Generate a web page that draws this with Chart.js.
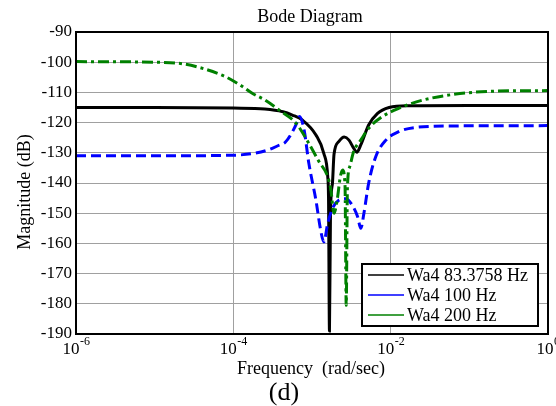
<!DOCTYPE html>
<html><head><meta charset="utf-8">
<script src="https://cdn.jsdelivr.net/npm/chart.js@4.4.0/dist/chart.umd.min.js"></script>
<style>html,body{margin:0;padding:0;background:#fff;}#wrap{position:relative;width:556px;height:406px;}</style>
</head><body><div id="wrap"><canvas id="c" width="556" height="406"></canvas></div>
<script>
// Frequencies in rad/sec, magnitudes in dB
const freqBlack = [1e-6, 1e-5, 1e-4, 2.512e-4, 4.266e-4, 5.623e-4, 7.586e-4, 1.122e-3, 1.413e-3, 1.585e-3, 1.622e-3, 1.667e-3, 1.718e-3, 1.820e-3, 1.905e-3, 2.188e-3, 2.570e-3, 2.951e-3, 3.388e-3, 3.715e-3, 4.169e-3, 5.248e-3, 6.761e-3, 9.550e-3, 1.698e-2, 0.1, 1];
const magBlack  = [-115, -115, -115.2, -115.5, -116.4, -117.5, -119.2, -124.1, -130.2, -137.9, -145, -189, -150, -140, -130.5, -126.3, -124.8, -125.8, -128.5, -129.8, -127.4, -120.8, -117, -115, -114.4, -114.3, -114.3];

const freqBlue = [1e-6, 1e-5, 1e-4, 1.820e-4, 2.818e-4, 3.802e-4, 4.571e-4, 5.623e-4, 6.607e-4, 6.918e-4, 7.943e-4, 9.120e-4, 1.122e-3, 1.288e-3, 1.413e-3, 1.585e-3, 1.820e-3, 2.188e-3, 2.692e-3, 3.236e-3, 3.802e-3, 4.169e-3, 4.571e-3, 5.248e-3, 6.457e-3, 8.710e-3, 1.259e-2, 2.089e-2, 6.310e-2, 1];
const magBlue  = [-131, -131, -130.8, -130.2, -129, -127.5, -126.5, -123.1, -119.3, -118, -122.5, -133.5, -145.7, -155.6, -159.5, -153.4, -148.4, -145.7, -145.2, -147.3, -151.2, -155, -150, -140.1, -131.3, -125.8, -123, -121.6, -121.1, -121];

const freqGreen = [1e-6, 1e-5, 2.239e-5, 4.266e-5, 7.943e-5, 1.259e-4, 1.738e-4, 2.512e-4, 3.802e-4, 6.310e-4, 9.120e-4, 1.230e-3, 1.585e-3, 1.738e-3, 1.905e-3, 2.089e-3, 2.291e-3, 2.455e-3, 2.630e-3, 2.723e-3, 2.818e-3, 3.020e-3, 3.388e-3, 4.169e-3, 5.248e-3, 7.762e-3, 1.259e-2, 2.512e-2, 7.586e-2, 0.2138, 1];
const magGreen  = [-99.8, -100, -100.5, -102.2, -104.8, -107.8, -110.3, -112.5, -115.8, -120.3, -126.9, -133, -137.9, -142.3, -150, -145.6, -137.9, -135.7, -141, -180.5, -142, -134.6, -129.6, -125.8, -121.9, -118.1, -115.3, -112.6, -110.4, -109.6, -109.4];

const seriesLabels = ['Wa4 83.3758 Hz', 'Wa4 100 Hz', 'Wa4 200 Hz'];
const seriesColors = ['#000000', '#0000ff', '#008000'];
const xTickValues = [1e-6, 1e-4, 1e-2, 1];
const xTickExponents = ['-6', '-4', '-2', '0'];
const yTickValues = [-190, -180, -170, -160, -150, -140, -130, -120, -110, -100, -90];

const SERIF = '"Liberation Serif", "Times New Roman", serif';
const toPts = (xs, ys) => xs.map((x, i) => ({x: x, y: ys[i]}));

const drawPlugin = {
  id: 'extras',
  afterDraw(chart) {
    const ctx = chart.ctx;
    const a = chart.chartArea;
    const xs = chart.scales.x;
    ctx.save();
    // frame
    ctx.strokeStyle = '#000';
    ctx.lineWidth = 2;
    ctx.strokeRect(a.left, a.top, a.right - a.left, a.bottom - a.top);
    // x tick labels with superscripts
    ctx.fillStyle = '#000';
    ctx.textBaseline = 'alphabetic';
    xTickValues.forEach((v, i) => {
      const px = xs.getPixelForValue(v);
      ctx.font = '17px ' + SERIF;
      const w1 = ctx.measureText('10').width;
      ctx.font = '12px ' + SERIF;
      const w2 = ctx.measureText(xTickExponents[i]).width;
      const start = px - (w1 + w2) / 2;
      ctx.font = '17px ' + SERIF;
      ctx.textAlign = 'left';
      ctx.fillText('10', start, 354);
      ctx.font = '12px ' + SERIF;
      ctx.fillText(xTickExponents[i], start + w1 + 0.5, 345);
    });
    // title
    ctx.textAlign = 'center';
    ctx.textBaseline = 'middle';
    ctx.font = '18px ' + SERIF;
    ctx.fillText('Bode Diagram', 310, 17);
    // x title
    ctx.fillText('Frequency  (rad/sec)', 311, 369);
    // (d)
    ctx.font = '26px ' + SERIF;
    ctx.fillText('(d)', 284, 393);
    // y title
    ctx.save();
    ctx.translate(25, 192);
    ctx.rotate(-Math.PI / 2);
    ctx.font = '18px ' + SERIF;
    ctx.fillText('Magnitude (dB)', 0, 0);
    ctx.restore();
    // legend
    const lx = 362, ly = 264, lw = 176, lh = 62;
    ctx.fillStyle = '#fff';
    ctx.fillRect(lx, ly, lw, lh);
    ctx.strokeStyle = '#000';
    ctx.lineWidth = 2;
    ctx.strokeRect(lx, ly, lw, lh);
    ctx.font = '18px ' + SERIF;
    ctx.textAlign = 'left';
    ctx.textBaseline = 'middle';
    seriesLabels.forEach((lab, i) => {
      const y = 275 + i * 20;
      ctx.strokeStyle = seriesColors[i];
      ctx.lineWidth = 1.5;
      ctx.beginPath();
      ctx.moveTo(368, y);
      ctx.lineTo(404, y);
      ctx.stroke();
      ctx.fillStyle = '#000';
      ctx.fillText(lab, 407, y + 1);
    });
    ctx.restore();
  }
};

new Chart(document.getElementById('c'), {
  type: 'line',
  data: {
    datasets: [
      {label: seriesLabels[0], data: toPts(freqBlack, magBlack), borderColor: seriesColors[0], borderWidth: 3, pointRadius: 0, cubicInterpolationMode: 'monotone', order: 3},
      {label: seriesLabels[1], data: toPts(freqBlue, magBlue), borderColor: seriesColors[1], borderWidth: 3, borderDash: [10, 5], pointRadius: 0, cubicInterpolationMode: 'monotone', order: 2},
      {label: seriesLabels[2], data: toPts(freqGreen, magGreen), borderColor: seriesColors[2], borderWidth: 3, borderDash: [11, 4, 3, 4], pointRadius: 0, cubicInterpolationMode: 'monotone', order: 1}
    ]
  },
  options: {
    responsive: false,
    animation: false,
    devicePixelRatio: 1,
    layout: {padding: {top: 32, right: 8, left: 0, bottom: 0}},
    plugins: {legend: {display: false}, tooltip: {enabled: false}, title: {display: false}},
    scales: {
      x: {
        type: 'logarithmic', min: 1e-6, max: 1,
        afterBuildTicks: s => { s.ticks = xTickValues.map(v => ({value: v})); },
        afterFit: s => { s.height = 72; },
        ticks: {display: false},
        grid: {color: '#a0a0a0', lineWidth: 1, drawTicks: false},
        border: {display: false}
      },
      y: {
        type: 'linear', min: -190, max: -90,
        afterBuildTicks: s => { s.ticks = yTickValues.map(v => ({value: v})); },
        afterFit: s => { s.width = 76; },
        ticks: {color: '#000', font: {family: SERIF, size: 17}, padding: 4, callback: v => String(v)},
        grid: {color: '#a0a0a0', lineWidth: 1, drawTicks: false},
        border: {display: false}
      }
    }
  },
  plugins: [drawPlugin]
});
</script></body></html>
